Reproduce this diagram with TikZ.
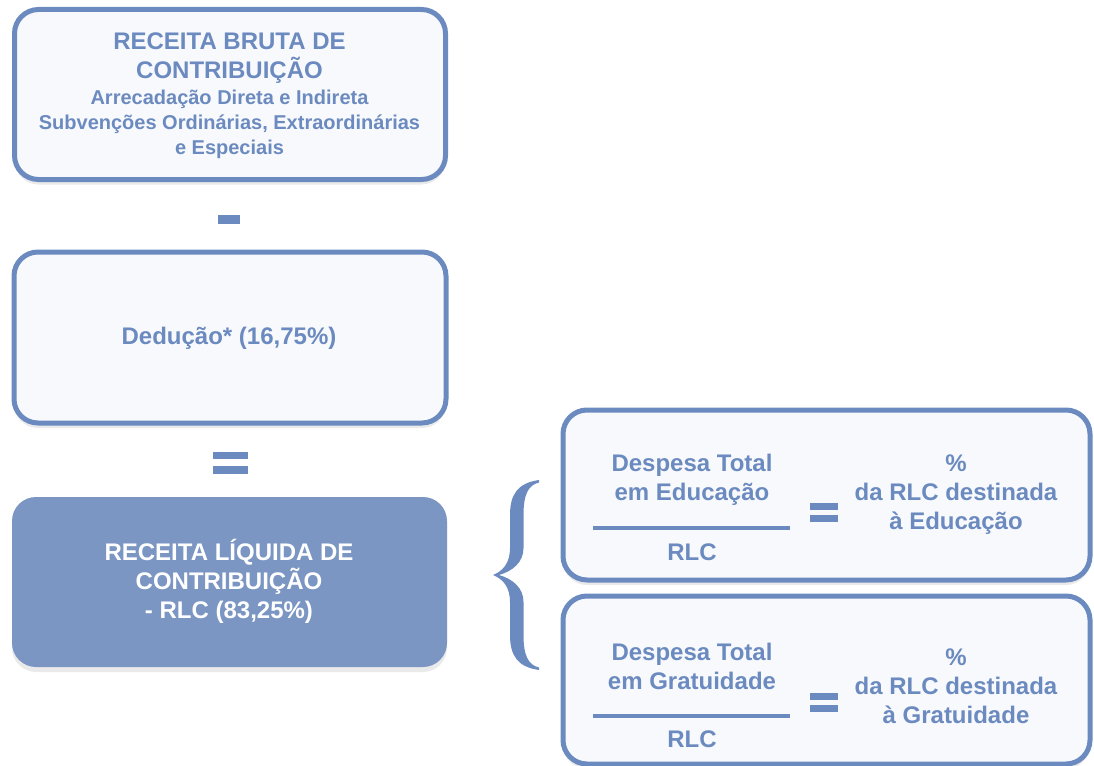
\documentclass[tikz,border=0pt]{standalone}
\usepackage{fontspec}
\setmainfont{Liberation Sans}
\usetikzlibrary{shadows}
\definecolor{bord}{RGB}{107,138,191}
\definecolor{boxfill}{RGB}{248,249,252}
\definecolor{darkfill}{RGB}{123,150,195}
\tikzset{
  softshadow/.style={drop shadow={shadow xshift=0pt, shadow yshift=-5pt, opacity=0.18, fill=black!45}},
  outlinebox/.style={draw=bord, line width=5pt, fill=boxfill, rounded corners=24pt, softshadow, inner sep=0pt},
  solidbox/.style={fill=darkfill, rounded corners=24pt, softshadow, inner sep=0pt},
  bigtxt/.style={text=bord, font=\fontsize{24}{29}\selectfont\bfseries, align=center, inner sep=0pt},
  smalltxt/.style={text=bord, font=\fontsize{20}{25}\selectfont\bfseries, align=center, inner sep=0pt},
  whitetxt/.style={text=white, font=\fontsize{24}{29}\selectfont\bfseries, align=center, inner sep=0pt},
  fracline/.style={draw=bord, line width=4.5pt},
  symbar/.style={fill=bord}
}
\begin{document}
\begin{tikzpicture}[x=1pt,y=-1pt]
\useasboundingbox (0,0) rectangle (1094,765);

% left column boxes
\node[outlinebox, minimum width=431pt, minimum height=170pt] (b1) at (230,94.5) {};
\node[bigtxt] (b1t) at (229.5,58) {RECEITA BRUTA DE\\CONTRIBUIÇÃO};
\node[smalltxt] (b1s) at (229.5,124) {Arrecadação Direta e Indireta\\Subvenções Ordinárias, Extraordinárias\\e Especiais};

\fill[symbar] (218,215) rectangle (240,224);

\node[outlinebox, minimum width=432pt, minimum height=171pt] (b2) at (230,337.5) {};
\node[bigtxt] (b2t) at (229,338) {Dedução* (16,75\%)};

\fill[symbar] (213,452) rectangle (248,459);
\fill[symbar] (213,466) rectangle (248,474);

\node[solidbox, minimum width=435pt, minimum height=170pt] (b3) at (229.5,582) {};
\node[whitetxt] (b3t) at (229,581) {RECEITA LÍQUIDA DE\\CONTRIBUIÇÃO\\- RLC (83,25\%)};

% brace
\fill[bord] (539,480) .. controls (518,483) and (510,494) .. (510,515) -- (510,548)
  .. controls (510,563) and (503,571) .. (493,575)
  .. controls (503,579) and (510,587) .. (510,602) -- (510,635)
  .. controls (510,656) and (518,667) .. (539,670)
  -- (539,667.5) .. controls (528,665) and (523.5,655) .. (523.5,635) -- (523.5,602)
  .. controls (523.5,588) and (513,579) .. (499,575)
  .. controls (513,571) and (523.5,562) .. (523.5,548) -- (523.5,515)
  .. controls (523.5,495) and (528,485) .. (539,482.5) -- cycle;

% right boxes
\node[outlinebox, minimum width=527pt, minimum height=170pt] (b4) at (826.5,495) {};
\node[bigtxt] (b4n) at (692,480) {Despesa Total\\em Educação};
\node[bigtxt] (b4d) at (692,552) {RLC};
\coordinate (f4a) at (593,528);
\coordinate (f4b) at (790,528);
\draw[fracline] (f4a) -- (f4b);
\fill[symbar] (810,503) rectangle (838,510);
\fill[symbar] (810,515) rectangle (838,522);
\node[bigtxt] (b4r) at (956,495) {\%\\da RLC destinada\\à Educação};

\node[outlinebox, minimum width=527pt, minimum height=168pt] (b5) at (826.5,680) {};
\node[bigtxt] (b5n) at (692,666) {Despesa Total\\em Gratuidade};
\node[bigtxt] (b5d) at (692,739) {RLC};
\coordinate (f5a) at (593,716);
\coordinate (f5b) at (790,716);
\draw[fracline] (f5a) -- (f5b);
\fill[symbar] (810,693) rectangle (838,700);
\fill[symbar] (810,705) rectangle (838,712);
\node[bigtxt] (b5r) at (956,686) {\%\\da RLC destinada\\à Gratuidade};
\end{tikzpicture}
\end{document}
